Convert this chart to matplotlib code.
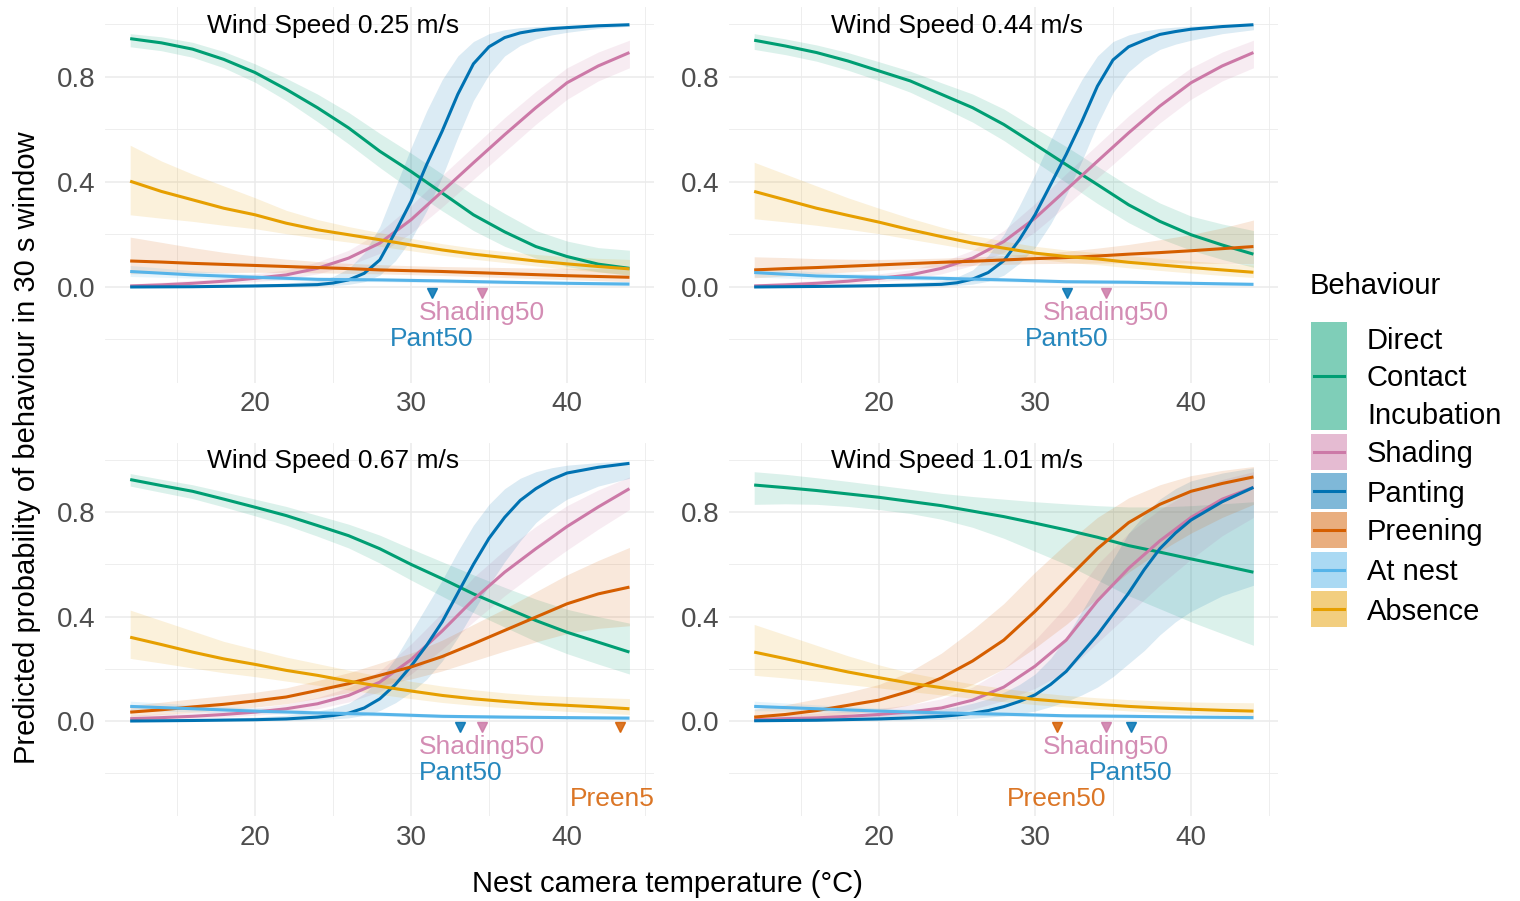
import matplotlib
matplotlib.use("Agg")
import matplotlib.pyplot as plt
from matplotlib.patches import Rectangle
from matplotlib.lines import Line2D

plt.rcParams['font.family'] = ['Liberation Sans', 'DejaVu Sans']

# ---------------- data ----------------
PANEL_TITLES = ["Wind Speed 0.25 m/s", "Wind Speed 0.44 m/s",
                "Wind Speed 0.67 m/s", "Wind Speed 1.01 m/s"]

X_MID = [12, 14, 16, 18, 20, 22, 24, 26, 28, 30, 32, 34, 36, 38, 40, 42, 44]
X_FINE = [12, 16, 20, 22, 24, 25, 26, 27, 28, 29, 30, 31, 32, 33, 34, 35, 36, 37, 38, 39, 40, 42, 44]
X_NEST = [12, 16, 20, 24, 28, 32, 36, 40, 44]

# Direct contact incubation (X_MID)
DCI_Y = [
    [0.946, 0.930, 0.906, 0.867, 0.817, 0.753, 0.683, 0.606, 0.517, 0.440, 0.358, 0.275, 0.210, 0.154, 0.116, 0.087, 0.071],
    [0.940, 0.918, 0.893, 0.861, 0.823, 0.785, 0.734, 0.683, 0.619, 0.543, 0.466, 0.390, 0.313, 0.250, 0.199, 0.160, 0.125],
    [0.925, 0.902, 0.880, 0.850, 0.819, 0.787, 0.749, 0.710, 0.660, 0.600, 0.545, 0.487, 0.436, 0.385, 0.340, 0.302, 0.264],
    [0.904, 0.894, 0.883, 0.870, 0.857, 0.841, 0.825, 0.804, 0.783, 0.758, 0.732, 0.704, 0.672, 0.647, 0.621, 0.596, 0.570],
]
DCI_LO = [
    [0.915, 0.900, 0.875, 0.835, 0.780, 0.710, 0.630, 0.545, 0.455, 0.370, 0.290, 0.215, 0.155, 0.110, 0.078, 0.058, 0.045],
    [0.905, 0.885, 0.860, 0.826, 0.786, 0.742, 0.686, 0.628, 0.558, 0.478, 0.398, 0.318, 0.245, 0.185, 0.140, 0.105, 0.075],
    [0.900, 0.876, 0.852, 0.820, 0.786, 0.750, 0.708, 0.663, 0.605, 0.540, 0.478, 0.415, 0.360, 0.305, 0.258, 0.218, 0.180],
    [0.830, 0.832, 0.830, 0.822, 0.810, 0.795, 0.773, 0.742, 0.700, 0.650, 0.600, 0.540, 0.480, 0.430, 0.380, 0.335, 0.290],
]
DCI_HI = [
    [0.965, 0.953, 0.932, 0.897, 0.850, 0.795, 0.735, 0.665, 0.585, 0.510, 0.430, 0.350, 0.280, 0.215, 0.175, 0.150, 0.140],
    [0.965, 0.945, 0.922, 0.893, 0.858, 0.822, 0.778, 0.735, 0.678, 0.605, 0.535, 0.460, 0.385, 0.320, 0.270, 0.240, 0.215],
    [0.948, 0.926, 0.905, 0.878, 0.850, 0.822, 0.788, 0.754, 0.712, 0.660, 0.610, 0.560, 0.512, 0.467, 0.428, 0.400, 0.375],
    [0.955, 0.945, 0.932, 0.918, 0.903, 0.888, 0.872, 0.860, 0.850, 0.840, 0.832, 0.825, 0.820, 0.820, 0.825, 0.832, 0.840],
]

# Shading (X_MID)
SHADE_Y = [
    [0.004, 0.008, 0.014, 0.022, 0.033, 0.046, 0.071, 0.110, 0.167, 0.256, 0.364, 0.473, 0.580, 0.683, 0.778, 0.842, 0.893],
    [0.004, 0.008, 0.014, 0.022, 0.033, 0.046, 0.071, 0.110, 0.173, 0.262, 0.370, 0.479, 0.587, 0.689, 0.778, 0.842, 0.893],
    [0.009, 0.013, 0.018, 0.025, 0.034, 0.047, 0.066, 0.098, 0.149, 0.235, 0.345, 0.465, 0.570, 0.660, 0.745, 0.820, 0.890],
    [0.005, 0.009, 0.012, 0.018, 0.025, 0.035, 0.050, 0.080, 0.130, 0.210, 0.310, 0.460, 0.585, 0.690, 0.780, 0.850, 0.895],
]
SHADE_LO = [
    [0.001, 0.003, 0.007, 0.012, 0.020, 0.030, 0.050, 0.082, 0.128, 0.205, 0.305, 0.410, 0.515, 0.620, 0.715, 0.785, 0.835],
    [0.001, 0.003, 0.007, 0.012, 0.020, 0.030, 0.050, 0.082, 0.132, 0.210, 0.310, 0.415, 0.520, 0.625, 0.715, 0.785, 0.835],
    [0.003, 0.006, 0.010, 0.015, 0.022, 0.032, 0.047, 0.073, 0.112, 0.180, 0.275, 0.380, 0.480, 0.570, 0.655, 0.735, 0.810],
    [0.001, 0.003, 0.004, 0.007, 0.011, 0.017, 0.026, 0.045, 0.078, 0.125, 0.190, 0.300, 0.410, 0.520, 0.620, 0.710, 0.780],
]
SHADE_HI = [
    [0.012, 0.018, 0.025, 0.035, 0.050, 0.065, 0.095, 0.140, 0.210, 0.310, 0.425, 0.535, 0.645, 0.745, 0.835, 0.895, 0.940],
    [0.012, 0.018, 0.025, 0.035, 0.050, 0.065, 0.095, 0.140, 0.215, 0.318, 0.432, 0.542, 0.652, 0.750, 0.835, 0.895, 0.940],
    [0.022, 0.027, 0.032, 0.040, 0.050, 0.065, 0.090, 0.128, 0.192, 0.295, 0.415, 0.550, 0.655, 0.745, 0.825, 0.885, 0.935],
    [0.020, 0.026, 0.030, 0.038, 0.048, 0.062, 0.085, 0.130, 0.200, 0.310, 0.440, 0.600, 0.720, 0.810, 0.880, 0.925, 0.955],
]

# Panting (X_FINE)
PANT_Y = [
    [0.000, 0.001, 0.004, 0.006, 0.009, 0.015, 0.027, 0.052, 0.103, 0.210, 0.326, 0.466, 0.594, 0.734, 0.850, 0.915, 0.950, 0.968, 0.978, 0.984, 0.988, 0.995, 0.999],
    [0.000, 0.002, 0.005, 0.007, 0.010, 0.016, 0.030, 0.055, 0.100, 0.180, 0.275, 0.390, 0.505, 0.630, 0.765, 0.865, 0.915, 0.940, 0.962, 0.973, 0.982, 0.992, 0.999],
    [0.000, 0.002, 0.005, 0.008, 0.015, 0.021, 0.030, 0.050, 0.085, 0.140, 0.210, 0.290, 0.380, 0.490, 0.600, 0.700, 0.780, 0.845, 0.890, 0.925, 0.950, 0.972, 0.987],
    [0.001, 0.003, 0.008, 0.012, 0.018, 0.023, 0.030, 0.040, 0.055, 0.075, 0.100, 0.140, 0.190, 0.260, 0.330, 0.410, 0.490, 0.580, 0.660, 0.720, 0.770, 0.840, 0.895],
]
PANT_LO = [
    [0.000, 0.000, 0.001, 0.002, 0.003, 0.005, 0.010, 0.020, 0.045, 0.100, 0.180, 0.290, 0.420, 0.570, 0.710, 0.810, 0.880, 0.920, 0.945, 0.960, 0.970, 0.985, 0.993],
    [0.000, 0.000, 0.001, 0.002, 0.004, 0.006, 0.011, 0.022, 0.045, 0.090, 0.150, 0.240, 0.350, 0.480, 0.620, 0.740, 0.820, 0.870, 0.905, 0.925, 0.940, 0.965, 0.980],
    [0.000, 0.000, 0.001, 0.002, 0.005, 0.008, 0.012, 0.022, 0.040, 0.070, 0.110, 0.160, 0.230, 0.320, 0.420, 0.520, 0.610, 0.690, 0.760, 0.810, 0.850, 0.900, 0.930],
    [0.000, 0.001, 0.002, 0.004, 0.006, 0.008, 0.011, 0.015, 0.020, 0.028, 0.038, 0.055, 0.075, 0.100, 0.130, 0.170, 0.220, 0.270, 0.330, 0.380, 0.420, 0.480, 0.520],
]
PANT_HI = [
    [0.002, 0.004, 0.010, 0.015, 0.024, 0.040, 0.070, 0.130, 0.230, 0.380, 0.530, 0.670, 0.790, 0.880, 0.935, 0.965, 0.980, 0.988, 0.992, 0.995, 0.997, 0.999, 1.000],
    [0.003, 0.006, 0.012, 0.016, 0.024, 0.038, 0.065, 0.120, 0.200, 0.310, 0.430, 0.560, 0.680, 0.790, 0.880, 0.935, 0.960, 0.975, 0.985, 0.990, 0.994, 0.998, 1.000],
    [0.003, 0.007, 0.015, 0.022, 0.038, 0.050, 0.068, 0.105, 0.160, 0.240, 0.340, 0.440, 0.540, 0.650, 0.750, 0.830, 0.890, 0.930, 0.955, 0.970, 0.980, 0.990, 0.996],
    [0.004, 0.010, 0.022, 0.032, 0.045, 0.055, 0.068, 0.085, 0.110, 0.140, 0.180, 0.240, 0.320, 0.420, 0.520, 0.620, 0.720, 0.790, 0.850, 0.890, 0.920, 0.950, 0.970],
]

# Preening (X_MID)
PREEN_Y = [
    [0.099, 0.095, 0.090, 0.086, 0.082, 0.078, 0.074, 0.070, 0.065, 0.062, 0.059, 0.055, 0.051, 0.047, 0.043, 0.040, 0.037],
    [0.065, 0.070, 0.074, 0.079, 0.084, 0.089, 0.094, 0.098, 0.103, 0.108, 0.112, 0.118, 0.125, 0.131, 0.138, 0.146, 0.154],
    [0.034, 0.043, 0.054, 0.064, 0.077, 0.092, 0.117, 0.143, 0.175, 0.207, 0.247, 0.296, 0.347, 0.398, 0.449, 0.487, 0.513],
    [0.015, 0.025, 0.040, 0.060, 0.080, 0.115, 0.165, 0.230, 0.310, 0.420, 0.540, 0.660, 0.760, 0.830, 0.880, 0.910, 0.935],
]
PREEN_LO = [
    [0.050, 0.052, 0.054, 0.055, 0.056, 0.055, 0.054, 0.052, 0.050, 0.047, 0.044, 0.040, 0.036, 0.032, 0.028, 0.024, 0.020],
    [0.035, 0.042, 0.050, 0.057, 0.064, 0.071, 0.077, 0.082, 0.086, 0.089, 0.090, 0.091, 0.092, 0.092, 0.091, 0.090, 0.088],
    [0.018, 0.025, 0.033, 0.042, 0.053, 0.066, 0.087, 0.109, 0.136, 0.161, 0.192, 0.230, 0.268, 0.303, 0.335, 0.355, 0.365],
    [0.004, 0.008, 0.015, 0.026, 0.040, 0.062, 0.095, 0.140, 0.200, 0.280, 0.370, 0.470, 0.570, 0.650, 0.720, 0.780, 0.830],
]
PREEN_HI = [
    [0.190, 0.170, 0.150, 0.132, 0.118, 0.106, 0.097, 0.090, 0.085, 0.081, 0.078, 0.076, 0.074, 0.072, 0.071, 0.070, 0.070],
    [0.115, 0.112, 0.108, 0.106, 0.105, 0.107, 0.110, 0.114, 0.120, 0.127, 0.136, 0.148, 0.162, 0.180, 0.200, 0.225, 0.255],
    [0.060, 0.072, 0.085, 0.097, 0.110, 0.127, 0.155, 0.185, 0.222, 0.260, 0.310, 0.370, 0.430, 0.495, 0.560, 0.615, 0.665],
    [0.045, 0.062, 0.085, 0.110, 0.140, 0.190, 0.260, 0.350, 0.450, 0.570, 0.680, 0.780, 0.855, 0.905, 0.940, 0.960, 0.975],
]

# At nest (X_NEST)
NEST_Y = [
    [0.059, 0.046, 0.037, 0.029, 0.027, 0.023, 0.018, 0.014, 0.011],
    [0.055, 0.042, 0.037, 0.033, 0.027, 0.020, 0.018, 0.014, 0.010],
    [0.056, 0.047, 0.038, 0.031, 0.026, 0.018, 0.015, 0.013, 0.011],
    [0.056, 0.047, 0.038, 0.031, 0.026, 0.020, 0.018, 0.015, 0.013],
]
NEST_LO = [
    [0.040, 0.034, 0.028, 0.022, 0.020, 0.016, 0.012, 0.008, 0.005],
    [0.038, 0.030, 0.028, 0.025, 0.020, 0.014, 0.012, 0.008, 0.005],
    [0.040, 0.035, 0.029, 0.023, 0.019, 0.012, 0.009, 0.007, 0.005],
    [0.040, 0.035, 0.029, 0.023, 0.019, 0.014, 0.012, 0.009, 0.006],
]
NEST_HI = [
    [0.082, 0.062, 0.048, 0.038, 0.035, 0.031, 0.026, 0.022, 0.020],
    [0.075, 0.057, 0.048, 0.043, 0.036, 0.028, 0.026, 0.022, 0.018],
    [0.076, 0.062, 0.050, 0.041, 0.035, 0.026, 0.023, 0.021, 0.020],
    [0.076, 0.062, 0.050, 0.041, 0.035, 0.028, 0.026, 0.023, 0.022],
]

# Absence (X_MID)
ABS_Y = [
    [0.403, 0.364, 0.332, 0.300, 0.275, 0.243, 0.218, 0.199, 0.180, 0.160, 0.141, 0.125, 0.112, 0.099, 0.088, 0.078, 0.069],
    [0.364, 0.332, 0.300, 0.273, 0.247, 0.218, 0.192, 0.167, 0.148, 0.129, 0.116, 0.107, 0.094, 0.084, 0.074, 0.065, 0.056],
    [0.321, 0.293, 0.264, 0.238, 0.217, 0.194, 0.175, 0.153, 0.133, 0.115, 0.098, 0.085, 0.075, 0.066, 0.060, 0.054, 0.047],
    [0.264, 0.239, 0.213, 0.188, 0.166, 0.145, 0.128, 0.112, 0.096, 0.083, 0.073, 0.064, 0.056, 0.050, 0.045, 0.041, 0.038],
]
ABS_LO = [
    [0.275, 0.262, 0.250, 0.235, 0.222, 0.203, 0.186, 0.171, 0.155, 0.138, 0.121, 0.106, 0.093, 0.080, 0.068, 0.057, 0.047],
    [0.260, 0.248, 0.235, 0.220, 0.203, 0.182, 0.162, 0.141, 0.124, 0.107, 0.094, 0.085, 0.073, 0.063, 0.053, 0.044, 0.036],
    [0.240, 0.222, 0.203, 0.185, 0.170, 0.153, 0.137, 0.119, 0.102, 0.086, 0.071, 0.060, 0.051, 0.043, 0.037, 0.031, 0.025],
    [0.175, 0.165, 0.153, 0.140, 0.127, 0.113, 0.100, 0.087, 0.074, 0.063, 0.054, 0.046, 0.039, 0.033, 0.028, 0.024, 0.020],
]
ABS_HI = [
    [0.540, 0.480, 0.430, 0.385, 0.340, 0.292, 0.257, 0.230, 0.207, 0.185, 0.165, 0.148, 0.135, 0.124, 0.115, 0.109, 0.105],
    [0.475, 0.430, 0.385, 0.340, 0.300, 0.262, 0.228, 0.197, 0.175, 0.155, 0.141, 0.131, 0.119, 0.109, 0.099, 0.091, 0.084],
    [0.425, 0.385, 0.345, 0.305, 0.275, 0.245, 0.220, 0.195, 0.172, 0.152, 0.134, 0.120, 0.108, 0.099, 0.094, 0.090, 0.086],
    [0.370, 0.330, 0.290, 0.250, 0.215, 0.185, 0.162, 0.142, 0.125, 0.110, 0.098, 0.089, 0.082, 0.077, 0.073, 0.071, 0.070],
]

# 50% threshold temperatures (None = not shown)
PANT50 = [31.35, 32.05, 33.16, 36.15]
SHADE50 = [34.55, 34.52, 34.54, 34.54]
PREEN50 = [None, None, 43.4, 31.4]

LEGEND_LABELS = ["Direct\nContact\nIncubation", "Shading", "Panting", "Preening", "At nest", "Absence"]
COLORS = ["#009E73", "#CC79A7", "#0072B2", "#D55E00", "#56B4E9", "#E69F00"]

X_TICKS = [20, 30, 40]
X_MINOR = [15, 25, 35, 45]
Y_TICKS = [0.0, 0.4, 0.8]
Y_MINOR = [-0.2, 0.2, 0.6, 1.0]

# ---------------- figure ----------------
W, H = 1520, 901
fig = plt.figure(figsize=(W / 100, H / 100), dpi=100)

panel_px = [  # left, top, right, bottom in pixels
    (105.2, 7.4, 654.4, 382.8),
    (729.2, 7.4, 1278.4, 382.8),
    (105.2, 443.0, 654.4, 816.3),
    (729.2, 443.0, 1278.4, 816.3),
]

series_defs = [
    (X_MID, DCI_Y, DCI_LO, DCI_HI),
    (X_MID, SHADE_Y, SHADE_LO, SHADE_HI),
    (X_FINE, PANT_Y, PANT_LO, PANT_HI),
    (X_MID, PREEN_Y, PREEN_LO, PREEN_HI),
    (X_NEST, NEST_Y, NEST_LO, NEST_HI),
    (X_MID, ABS_Y, ABS_LO, ABS_HI),
]

TICK_COLOR = "#4D4D4D"
GRID_COLOR = "#EBEBEB"

for p in range(4):
    l, t, r, b = panel_px[p]
    ax = fig.add_axes([l / W, 1 - b / H, (r - l) / W, (b - t) / H])
    ax.set_xlim(10.4, 45.6)
    ax.set_ylim(-0.365, 1.065)
    for s in ax.spines.values():
        s.set_visible(False)
    ax.set_xticks(X_TICKS)
    ax.set_xticks(X_MINOR, minor=True)
    ax.set_yticks(Y_TICKS)
    ax.set_yticks(Y_MINOR, minor=True)
    ax.set_yticklabels([f"{v:.1f}" for v in Y_TICKS])
    ax.tick_params(which="both", length=0)
    ax.tick_params(axis="x", labelsize=20, labelcolor=TICK_COLOR, pad=6)
    ax.tick_params(axis="y", labelsize=20, labelcolor=TICK_COLOR, pad=7)
    ax.grid(True, which="major", color=GRID_COLOR, lw=1.1)
    ax.grid(True, which="minor", color=GRID_COLOR, lw=0.6)
    ax.set_axisbelow(True)

    # ribbons first
    for k, (xs, ys, los, his) in enumerate(series_defs):
        ax.fill_between(xs, los[p], his[p], color=COLORS[k], alpha=0.14, lw=0)
    # lines
    for k, (xs, ys, los, his) in enumerate(series_defs):
        ax.plot(xs, ys[p], color=COLORS[k], lw=2.2, solid_capstyle="butt")

    ax.text(25, 0.995, PANEL_TITLES[p], ha="center", va="center", fontsize=19, color="black")

    # threshold markers and labels
    ax.plot([SHADE50[p]], [-0.022], marker="v", ms=7, color=COLORS[1], alpha=0.85, ls="none")
    ax.text(SHADE50[p], -0.10, "Shading50", ha="center", va="center", fontsize=19,
            color=COLORS[1], alpha=0.85)
    ax.plot([PANT50[p]], [-0.022], marker="v", ms=7, color=COLORS[2], alpha=0.85, ls="none")
    ax.text(PANT50[p], -0.20, "Pant50", ha="center", va="center", fontsize=19,
            color=COLORS[2], alpha=0.85)
    if PREEN50[p] is not None:
        ax.plot([PREEN50[p]], [-0.022], marker="v", ms=7, color=COLORS[3], alpha=0.85, ls="none")
        ax.text(PREEN50[p], -0.30, "Preen50", ha="center", va="center", fontsize=19,
                color=COLORS[3], alpha=0.85, clip_on=True)

# axis titles
fig.text(667 / W, 1 - 884 / H, "Nest camera temperature (°C)", ha="center", va="center",
         fontsize=21, color="black")
fig.text(27 / W, 1 - 448 / H, "Predicted probability of behaviour in 30 s window",
         ha="center", va="center", rotation=90, fontsize=21, color="black")

# legend (drawn in pixel coordinates)
lax = fig.add_axes([0, 0, 1, 1], facecolor="none")
lax.set_xlim(0, W)
lax.set_ylim(H, 0)
lax.axis("off")
lax.text(1310, 286, "Behaviour", ha="left", va="center", fontsize=21, color="black")
box_tops = [322, 434, 473, 512, 552, 591]
box_bots = [430, 470, 509, 548, 588, 627]
for k in range(6):
    y0, y1 = box_tops[k], box_bots[k]
    lax.add_patch(Rectangle((1311, y0), 36, y1 - y0, facecolor=COLORS[k], alpha=0.5, lw=0))
    ym = (y0 + y1) / 2
    lax.add_line(Line2D([1314, 1344], [ym, ym], color=COLORS[k], lw=2.2))
    lax.text(1367, ym + 2.5, LEGEND_LABELS[k], ha="left", va="center", fontsize=21,
             color="black", linespacing=1.43)

fig.savefig("out.png", dpi=100)
